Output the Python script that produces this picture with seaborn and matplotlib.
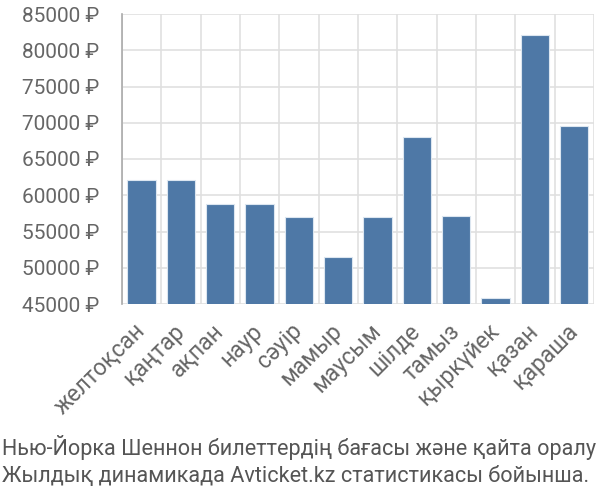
import numpy as np
import pandas as pd
import seaborn as sns
import matplotlib.pyplot as plt
from matplotlib.ticker import FixedLocator

months = ["желтоқсан", "қаңтар", "ақпан", "наур", "сәуір", "мамыр",
          "маусым", "шілде", "тамыз", "қыркүйек", "қазан", "қараша"]
prices = [62130, 62130, 58770, 58770, 56970, 51450,
          56970, 68020, 57150, 45830, 82150, 69590]
y_ticks = [45000, 50000, 55000, 60000, 65000, 70000, 75000, 80000, 85000]
caption = ["Нью-Йорка Шеннон билеттердің бағасы және қайта оралу",
           "Жылдық динамикада Avticket.kz статистикасы бойынша."]

sns.set_style("white")
plt.rcParams["font.family"] = ["Roboto", "DejaVu Sans"]

df = pd.DataFrame({"month": months, "price": prices})

fig = plt.figure(figsize=(6, 5), dpi=100)
ax = fig.add_axes([0.203, 0.392, 0.787, 0.58])

sns.barplot(data=df, x="month", y="price", color="#4e78a6", saturation=1,
            width=0.72, edgecolor="#dce6f0", linewidth=0.8, ax=ax, zorder=3)

ax.set_ylim(45000, 85000)
ax.set_xlim(-0.5, len(months) - 0.5)
ax.set_yticks(y_ticks)
ax.set_yticklabels([f"{v} ₽" for v in y_ticks], fontsize=15, color="#666666")
ax.set_xticks(range(len(months)))
ax.set_xticklabels(months, rotation=45, ha="right", va="center",
                   rotation_mode="anchor", fontsize=16.5, color="#666666")
ax.xaxis.set_minor_locator(FixedLocator(np.arange(-0.5, len(months), 1)))

ax.grid(axis="y", color="#e0e0e0", linewidth=1.2, zorder=0)
ax.grid(axis="x", which="minor", color="#e0e0e0", linewidth=1.2, zorder=0)
ax.tick_params(axis="y", length=14, width=1.2, color="#e0e0e0", pad=2)
ax.tick_params(axis="x", which="major", length=0, pad=17)
ax.tick_params(axis="x", which="minor", length=14, width=1.2, color="#e0e0e0")

for side in ["top", "right", "bottom"]:
    ax.spines[side].set_visible(False)
ax.spines["left"].set_color("#aaaaaa")
ax.spines["left"].set_linewidth(1.2)
ax.set_xlabel("")
ax.set_ylabel("")

fig.text(0.003, 0.105, caption[0], fontsize=15.6, color="#555555", va="center")
fig.text(0.003, 0.048, caption[1], fontsize=15.6, color="#555555", va="center")

fig.savefig("out.png", dpi=100)
